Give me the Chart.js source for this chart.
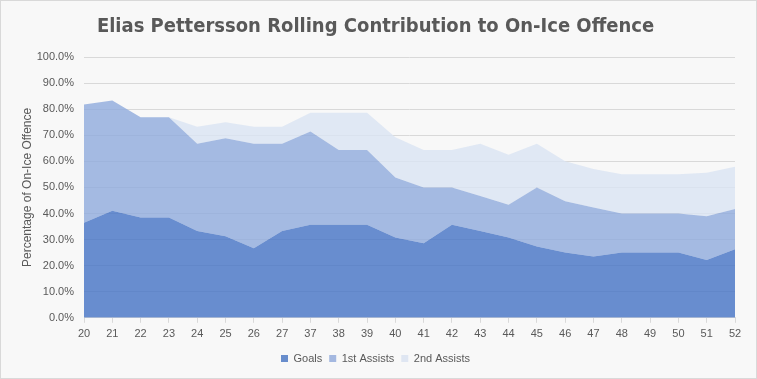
<!DOCTYPE html>
<html>
<head>
<meta charset="utf-8">
<script src="https://cdn.jsdelivr.net/npm/chart.js@4"></script>
<style>
  html, body { margin: 0; padding: 0; background: #f8f8f8; }
  #c { display: block; }
</style>
</head>
<body>
<canvas id="c" width="757" height="379"></canvas>
<script>
const categories = ["20","21","22","23","24","25","26","27","37","38","39","40","41","42","43","44","45","46","47","48","49","50","51","52"];
const goals =         [36.4, 41.0, 38.5, 38.5, 33.3, 31.3, 26.7, 33.3, 35.7, 35.7, 35.7, 30.8, 28.6, 35.7, 33.3, 30.8, 27.3, 25.0, 23.5, 25.0, 25.0, 25.0, 22.2, 26.3];
const firstAssists =  [45.4, 42.3, 38.4, 38.4, 33.4, 37.5, 40.0, 33.4, 35.7, 28.6, 28.6, 23.0, 21.4, 14.3, 13.4, 12.5, 22.7, 19.7, 18.8, 15.0, 15.0, 15.0, 16.7, 15.4];
const secondAssists = [0.0,  0.0,  0.0,  0.0,  6.6,  6.2,  6.6,  6.6,  7.2, 14.3, 14.3, 15.4, 14.3, 14.3, 20.0, 19.2, 16.7, 15.3, 14.8, 15.0, 15.0, 15.0, 16.7, 16.2];
const seriesNames = ["Goals", "1st Assists", "2nd Assists"];
const yTicks = [0, 10, 20, 30, 40, 50, 60, 70, 80, 90, 100];

const textColor = "#595959";
const gridColor = "#d9d9d9";
const fills = ["rgba(68,114,196,0.8)", "rgba(143,170,220,0.8)", "rgba(218,227,243,0.8)"];
const legendFills = ["#688dcc", "#a4b8e0", "#dfe6f2"];

const bgPlugin = {
  id: "bg",
  beforeDraw(chart) {
    const ctx = chart.ctx;
    ctx.save();
    ctx.fillStyle = "#f8f8f8";
    ctx.fillRect(0, 0, chart.width, chart.height);
    ctx.strokeStyle = "#d9d9d9";
    ctx.lineWidth = 1;
    ctx.strokeRect(0.5, 0.5, chart.width - 1, chart.height - 1);
    ctx.restore();
  }
};

const values = [goals, firstAssists, secondAssists];
new Chart(document.getElementById("c"), {
  type: "line",
  data: {
    labels: categories,
    datasets: values.map((v, i) => ({
      label: seriesNames[i],
      data: v,
      fill: i === 0 ? "origin" : "-1",
      backgroundColor: fills[i],
      borderWidth: 0,
      borderColor: "rgba(0,0,0,0)",
      pointRadius: 0,
      pointHoverRadius: 0,
      tension: 0
    }))
  },
  options: {
    responsive: false,
    animation: false,
    events: [],
    layout: { padding: { left: 16, right: 22, top: 6, bottom: 5 } },
    plugins: {
      title: {
        display: true,
        text: "Elias Pettersson Rolling Contribution to On-Ice Offence",
        color: textColor,
        font: { family: "'DejaVu Sans Condensed', 'DejaVu Sans', sans-serif", size: 20, weight: "bold" },
        padding: { top: 9, bottom: 18 }
      },
      legend: {
        display: true,
        position: "bottom",
        labels: {
          color: textColor,
          font: { family: "'Liberation Sans', sans-serif", size: 11 },
          boxWidth: 7,
          boxHeight: 7,
          padding: 7,
          generateLabels(chart) {
            return chart.data.datasets.map((d, i) => ({
              text: d.label,
              fillStyle: legendFills[i],
              strokeStyle: legendFills[i],
              lineWidth: 0,
              fontColor: textColor,
              datasetIndex: i,
              hidden: false
            }));
          }
        }
      },
      tooltip: { enabled: false }
    },
    scales: {
      x: {
        offset: false,
        grid: { drawOnChartArea: false, drawTicks: true, tickLength: 5, color: gridColor },
        border: { display: true, color: gridColor },
        ticks: {
          color: textColor,
          font: { family: "'Liberation Sans', sans-serif", size: 11 },
          maxRotation: 0,
          autoSkip: false,
          padding: 5
        }
      },
      y: {
        stacked: true,
        min: 0,
        max: 100,
        afterBuildTicks(scale) { scale.ticks = yTicks.map(v => ({ value: v })); },
        afterFit(scale) { scale.width = 68; },
        grid: { color: gridColor, drawTicks: false },
        border: { display: false },
        ticks: {
          color: textColor,
          font: { family: "'Liberation Sans', sans-serif", size: 11 },
          padding: 10,
          callback: v => v.toFixed(1) + "%"
        },
        title: {
          display: true,
          text: "Percentage of On-Ice Offence",
          color: textColor,
          font: { family: "'Liberation Sans', sans-serif", size: 12 },
          padding: { top: 4, bottom: 0 }
        }
      }
    }
  },
  plugins: [bgPlugin]
});
</script>
</body>
</html>
